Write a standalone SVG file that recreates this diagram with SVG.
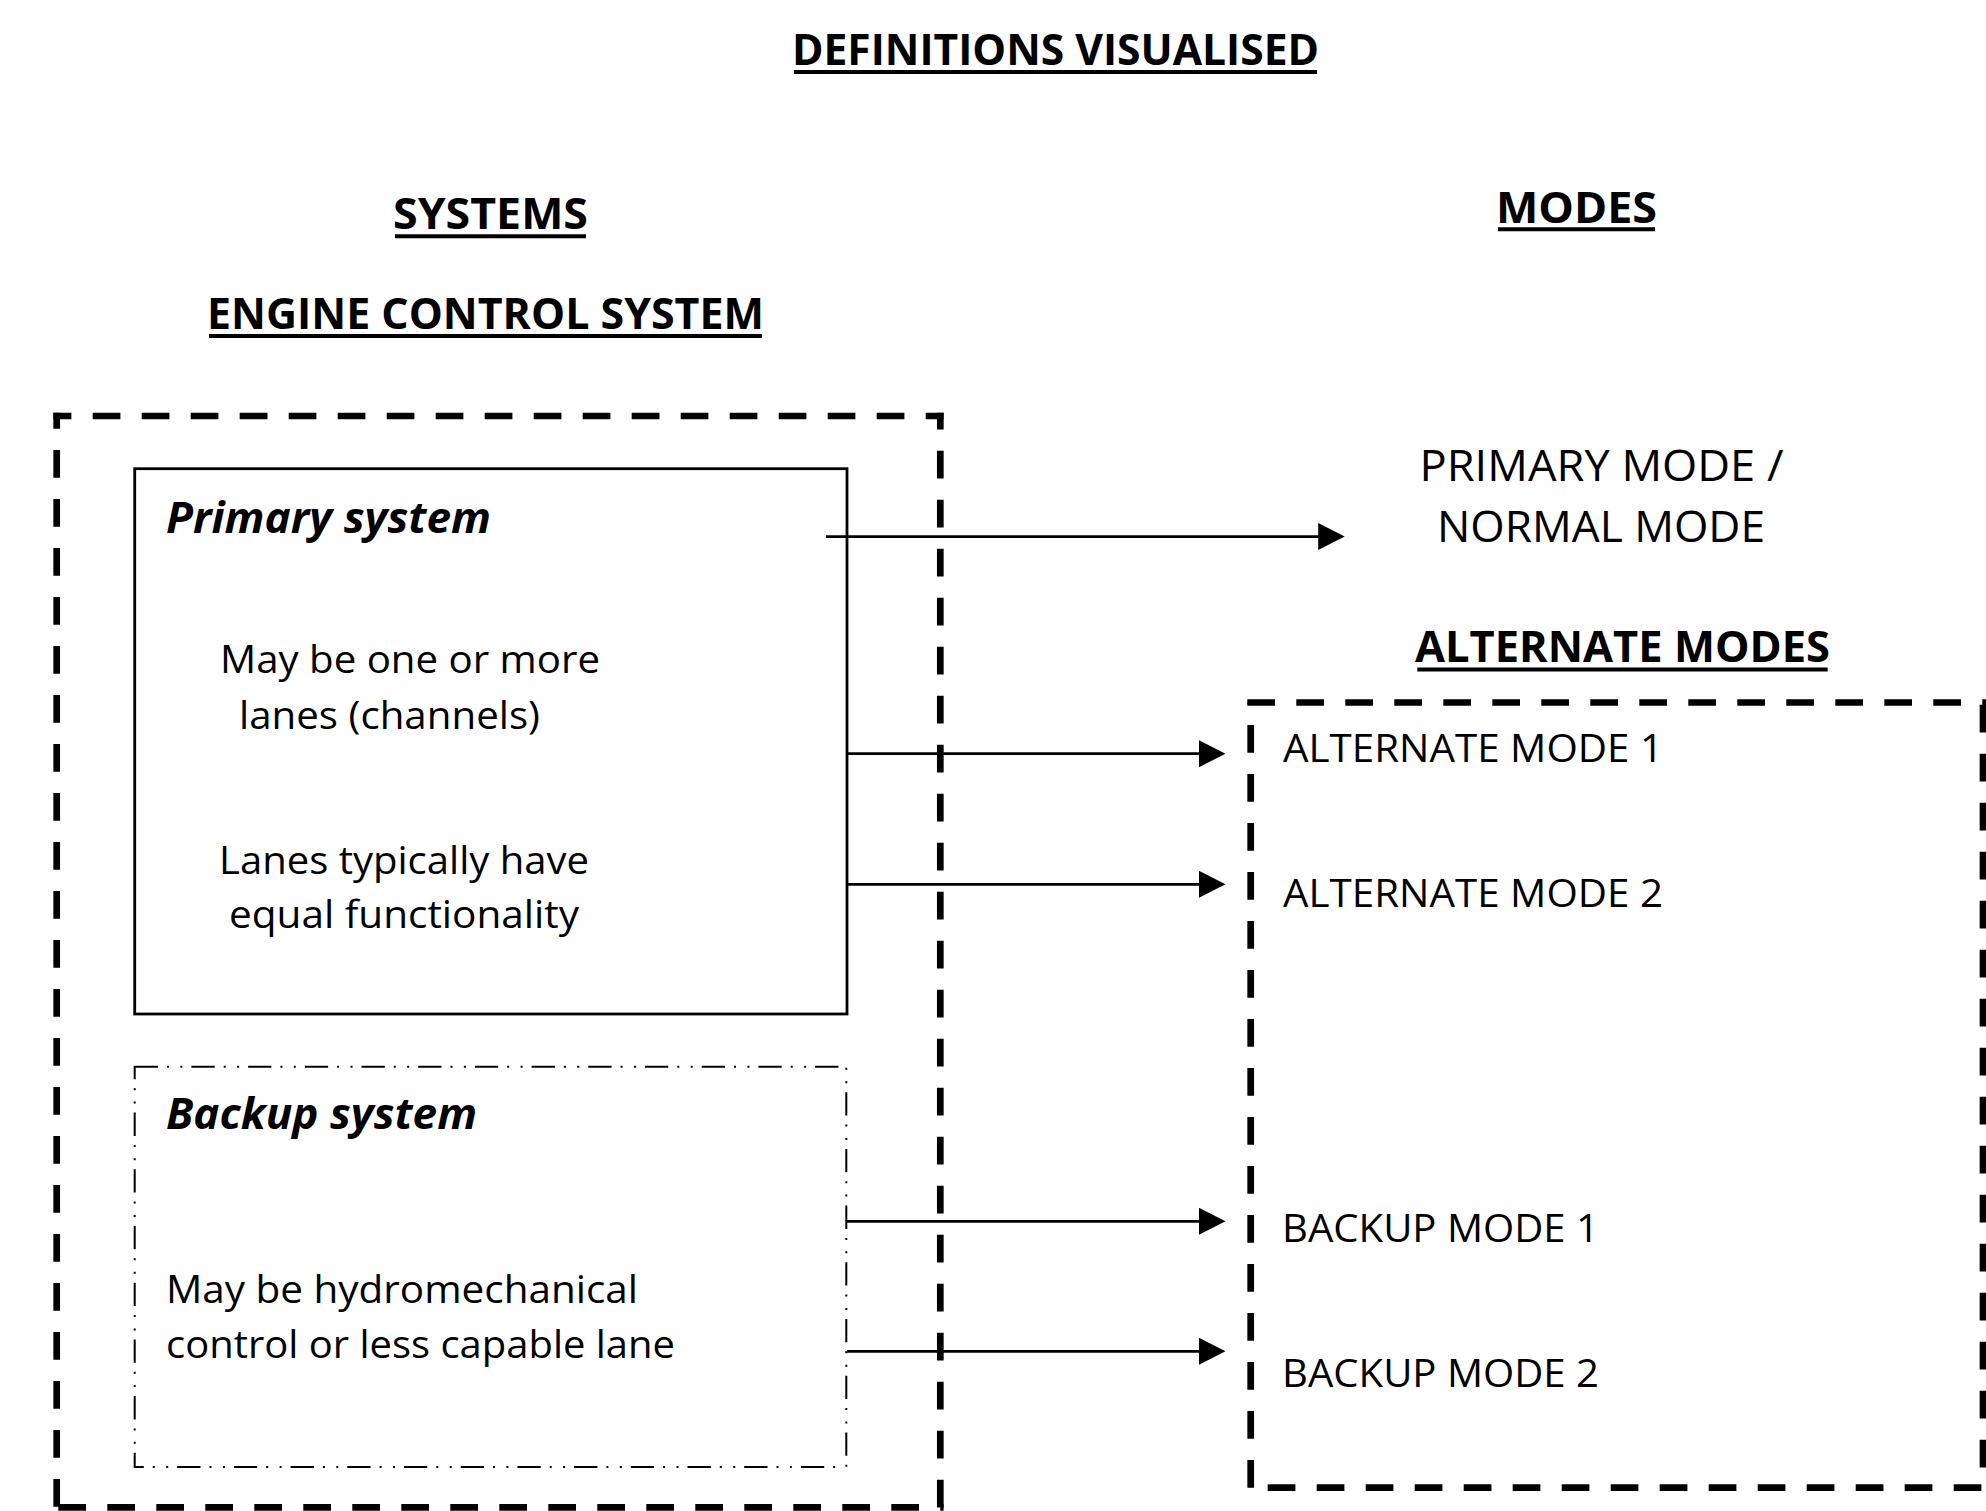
<svg xmlns="http://www.w3.org/2000/svg" width="1986" height="1511" viewBox="0 0 1986 1511">
<style>
text { font-family: "Open Sans", "Noto Sans", "Liberation Sans", sans-serif; fill: #000; }
.b { font-weight: bold; font-size: 43px; }
.bi { font-weight: bold; font-style: italic; font-size: 43px; }
.r { font-size: 39px; }
.rl { font-size: 43px; }
.ul { stroke: #000; stroke-width: 4; }
.dash { fill: none; stroke: #000; stroke-width: 6.7; stroke-dasharray: 27.7 21.3; }
.solid { fill: none; stroke: #000; stroke-width: 2.8; }
.dd { fill: none; stroke: #000; stroke-width: 2; stroke-dasharray: 23.3 9 2 11.4 2 9; }
.conn { stroke: #000; stroke-width: 2.8; fill: none; }
</style>
<defs>
<marker id="arrow" markerUnits="userSpaceOnUse" markerWidth="28" markerHeight="28" refX="20.5" refY="13.5" orient="auto">
<path d="M0,0 L26.5,13.5 L0,27 Z" fill="#000"/>
</marker>
</defs>
<rect width="1986" height="1511" fill="#fff"/>

<g id="title">
<text class="b" x="792" y="64.5" textLength="527" lengthAdjust="spacingAndGlyphs">DEFINITIONS VISUALISED</text>
<line class="ul" x1="794" y1="72" x2="1317" y2="72"/>
</g>

<g id="heading-systems">
<text class="b" x="393" y="228.6" textLength="195" lengthAdjust="spacingAndGlyphs">SYSTEMS</text>
<line class="ul" x1="395" y1="236.3" x2="586" y2="236.3"/>
</g>

<g id="heading-modes">
<text class="b" x="1496" y="222.5" textLength="161" lengthAdjust="spacingAndGlyphs">MODES</text>
<line class="ul" x1="1498" y1="229.3" x2="1655" y2="229.3"/>
</g>

<g id="heading-engine-control-system">
<text class="b" x="207" y="328.7" textLength="557" lengthAdjust="spacingAndGlyphs">ENGINE CONTROL SYSTEM</text>
<line class="ul" x1="209" y1="336" x2="762" y2="336"/>
</g>

<g id="engine-control-system">
<line class="dash" x1="53.3" y1="416" x2="943.6" y2="416" stroke-dashoffset="9.6"/>
<line class="dash" x1="56.7" y1="412.7" x2="56.7" y2="1510.6" stroke-dashoffset="11.7"/>
<line class="dash" x1="940.3" y1="412.7" x2="940.3" y2="1510.6" stroke-dashoffset="11"/>
<line class="dash" x1="58.3" y1="1507.3" x2="943.6" y2="1507.3"/>
</g>

<g id="primary-system">
<rect class="solid" x="134.7" y="468.7" width="712.3" height="545.3"/>
<text class="bi" x="166" y="532.7" textLength="325" lengthAdjust="spacingAndGlyphs">Primary system</text>
<text class="r" x="220" y="673" textLength="380" lengthAdjust="spacingAndGlyphs">May be one or more</text>
<text class="r" x="239" y="728.5" textLength="301" lengthAdjust="spacingAndGlyphs">lanes (channels)</text>
<text class="r" x="219" y="873.5" textLength="370" lengthAdjust="spacingAndGlyphs">Lanes typically have</text>
<text class="r" x="229" y="927.6" textLength="350" lengthAdjust="spacingAndGlyphs">equal functionality</text>
</g>

<g id="backup-system">
<rect class="dd" x="134.7" y="1066.7" width="711.6" height="400.3"/>
<text class="bi" x="166" y="1129" font-size="42" textLength="311" lengthAdjust="spacingAndGlyphs">Backup system</text>
<text class="r" x="166" y="1303.3" textLength="472" lengthAdjust="spacingAndGlyphs">May be hydromechanical</text>
<text class="r" x="166" y="1358" textLength="509" lengthAdjust="spacingAndGlyphs">control or less capable lane</text>
</g>

<g id="primary-mode">
<text class="rl" x="1419.5" y="480.7" textLength="364" lengthAdjust="spacingAndGlyphs">PRIMARY MODE /</text>
<text class="rl" x="1437" y="541.7" textLength="328" lengthAdjust="spacingAndGlyphs">NORMAL MODE</text>
</g>

<g id="heading-alternate-modes">
<text class="b" x="1415" y="662" textLength="415" lengthAdjust="spacingAndGlyphs">ALTERNATE MODES</text>
<line class="ul" x1="1417.3" y1="669.5" x2="1827.7" y2="669.5"/>
</g>

<g id="alternate-modes">
<line class="dash" x1="1247.3" y1="702.5" x2="1986" y2="702.5"/>
<line class="dash" x1="1250.7" y1="702.5" x2="1250.7" y2="1491" stroke-dashoffset="26.5"/>
<line class="dash" x1="1267.7" y1="1487.7" x2="1986" y2="1487.7"/>
<line class="dash" x1="1983" y1="704.7" x2="1983" y2="1467.5"/>
<text class="r" x="1283" y="761.7" textLength="380" lengthAdjust="spacingAndGlyphs">ALTERNATE MODE 1</text>
<text class="r" x="1283" y="906.7" textLength="380" lengthAdjust="spacingAndGlyphs">ALTERNATE MODE 2</text>
<text class="r" x="1282" y="1241.7" textLength="317" lengthAdjust="spacingAndGlyphs">BACKUP MODE 1</text>
<text class="r" x="1282" y="1387.3" textLength="317" lengthAdjust="spacingAndGlyphs">BACKUP MODE 2</text>
</g>

<g id="connectors">
<line class="conn" x1="826" y1="536.6" x2="1338.7" y2="536.6" marker-end="url(#arrow)"/>
<line class="conn" x1="847" y1="753.7" x2="1219.5" y2="753.7" marker-end="url(#arrow)"/>
<line class="conn" x1="847" y1="884.3" x2="1219.5" y2="884.3" marker-end="url(#arrow)"/>
<line class="conn" x1="847" y1="1221.3" x2="1219.5" y2="1221.3" marker-end="url(#arrow)"/>
<line class="conn" x1="847" y1="1351.3" x2="1219.5" y2="1351.3" marker-end="url(#arrow)"/>
</g>
</svg>
